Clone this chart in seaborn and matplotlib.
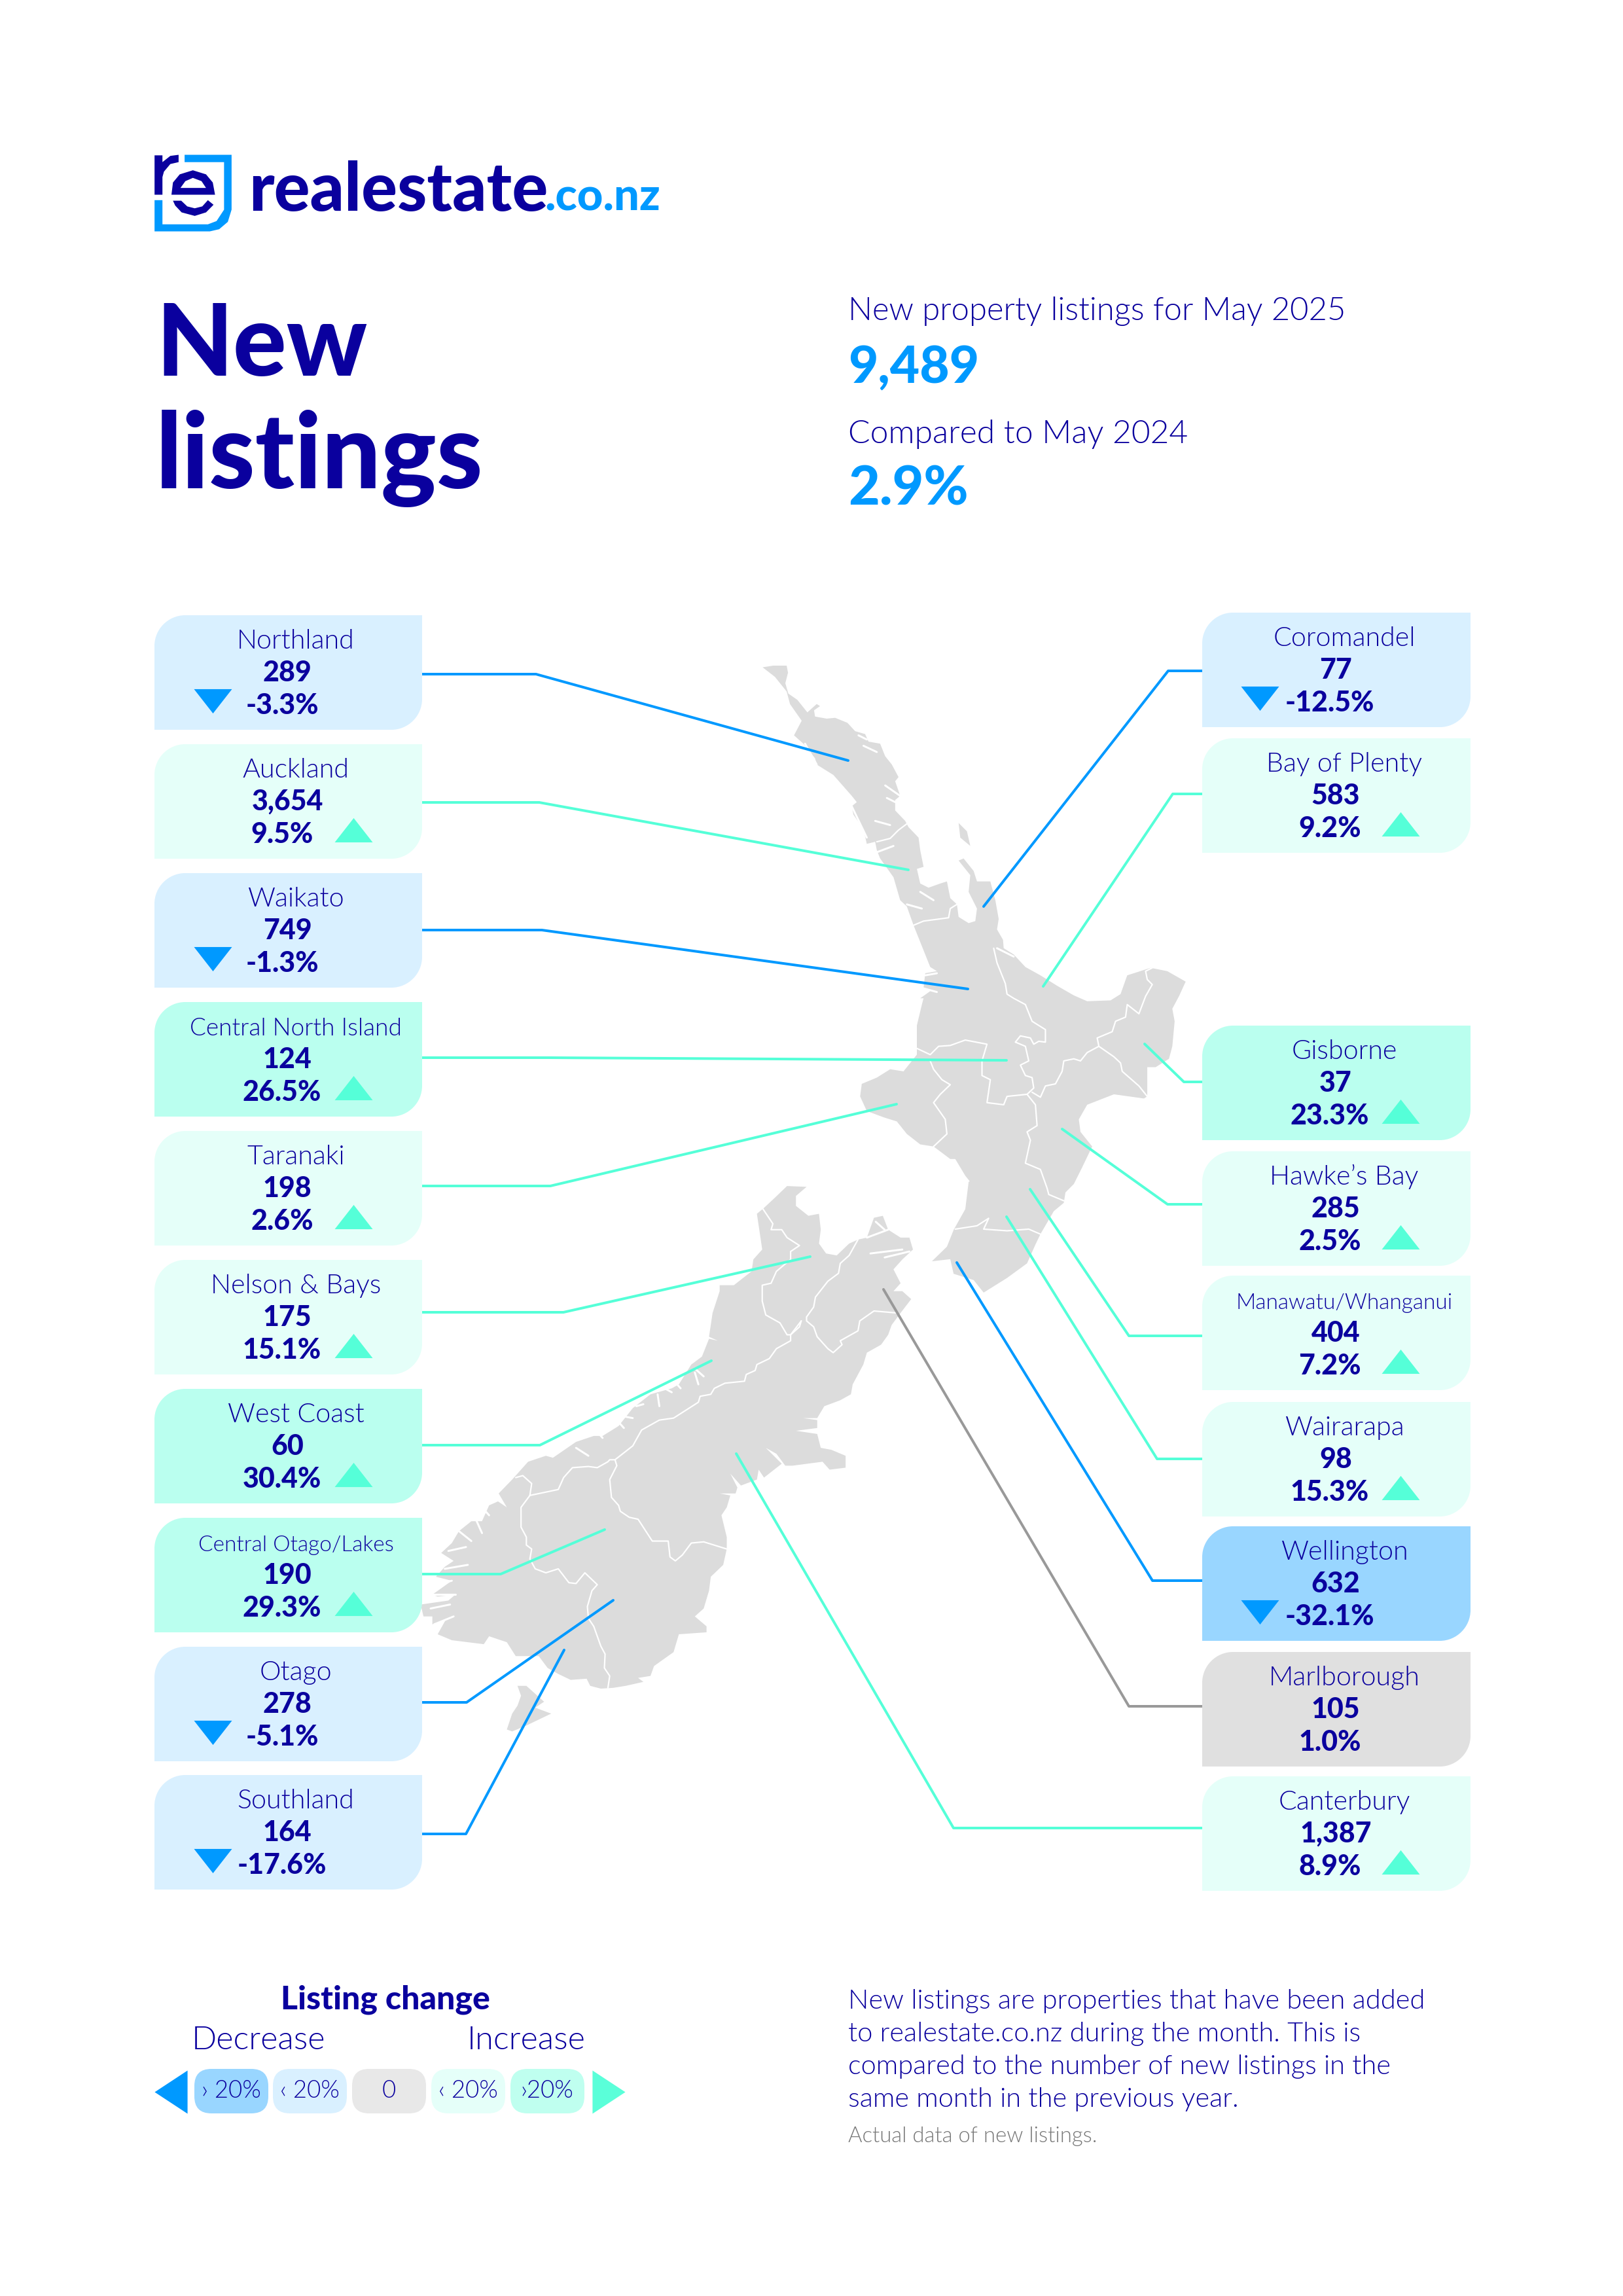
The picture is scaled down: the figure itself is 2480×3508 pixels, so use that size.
"""
New listings poster for realestate.co.nz, May 2025.
"""

import matplotlib
matplotlib.use("Agg")
import matplotlib.pyplot as plt
from matplotlib.patches import FancyBboxPatch, PathPatch, Polygon
from matplotlib.path import Path
import seaborn as sns

# regions, values
LEFT_NAMES = ["Northland", "Auckland", "Waikato", "Central North Island", "Taranaki",
              "Nelson & Bays", "West Coast", "Central Otago/Lakes", "Otago", "Southland"]
LEFT_LISTINGS = ["289", "3,654", "749", "124", "198", "175", "60", "190", "278", "164"]
LEFT_CHANGE = [-3.3, 9.5, -1.3, 26.5, 2.6, 15.1, 30.4, 29.3, -5.1, -17.6]

RIGHT_NAMES = ["Coromandel", "Bay of Plenty", "Gisborne", "Hawke’s Bay", "Manawatu/Whanganui",
               "Wairarapa", "Wellington", "Marlborough", "Canterbury"]
RIGHT_LISTINGS = ["77", "583", "37", "285", "404", "98", "632", "105", "1,387"]
RIGHT_CHANGE = [-12.5, 9.2, 23.3, 2.5, 7.2, 15.3, -32.1, 1.0, 8.9]

# long names are set smaller in their boxes
NAME_SIZES = {"Central North Island": 8.9, "Central Otago/Lakes": 8.0, "Manawatu/Whanganui": 8.0}

# layout of the boxes and leader lines (page pixels)
LEFT_TOPS = [940, 1137, 1334, 1531, 1728, 1925, 2122, 2319, 2516, 2712]
RIGHT_TOPS = [936, 1128, 1567, 1759, 1949, 2142, 2332, 2524, 2714]
LEFT_KNEE_X = [819, 824, 828, 839, 841, 861, 825, 765, 713, 712]
LEFT_KNEE_Y = [1030, 1226, 1421, 1616, 1812, 2005, 2208, 2405, 2601, 2802]
LEFT_END_X = [1296, 1388, 1479, 1538, 1370, 1238, 1087, 924, 937, 862]
LEFT_END_Y = [1162, 1329, 1511, 1620, 1687, 1920, 2079, 2337, 2445, 2521]
RIGHT_KNEE_X = [1785, 1792, 1809, 1784, 1725, 1768, 1761, 1725, 1457]
RIGHT_KNEE_Y = [1025, 1213, 1653, 1840, 2041, 2229, 2415, 2607, 2793]
RIGHT_END_X = [1503, 1594, 1749, 1623, 1574, 1538, 1462, 1350, 1125]
RIGHT_END_Y = [1385, 1507, 1595, 1725, 1817, 1859, 1929, 1970, 2221]

# map outlines, traced in crop pixels, converted by north()/south() below
NORTH_X = [128, 160, 200, 204, 196, 205, 232, 262, 290, 300, 282, 285, 320, 345, 382, 405, 435, 445, 480, 495,
           515, 535, 525, 540, 525, 525, 555, 565, 595, 600, 610, 590, 600, 625, 660, 680, 690, 710, 715, 745,
           765, 770, 745, 750, 715, 730, 760, 770, 810, 825, 835, 830, 848, 850, 880, 915, 960, 1010, 1060, 1100,
           1170, 1200, 1220, 1290, 1340, 1395, 1375, 1355, 1362, 1355, 1345, 1305, 1280, 1280, 1270, 1180, 1100, 1075, 1080, 1115,
           1085, 1060, 1035, 1030, 1000, 960, 945, 920, 860, 790, 760, 700, 690, 635, 680, 700, 735, 745, 765, 750,
           735, 705, 690, 640, 600, 560, 530, 490, 440, 420, 425, 470, 510, 550, 590, 590, 605, 610, 600, 635,
           610, 615, 650, 630, 590, 580, 560, 540, 520, 480, 470, 465, 440, 430, 400, 395, 410, 395, 340, 290,
           285, 250, 222, 245, 210, 200, 165]
NORTH_Y = [62, 58, 58, 75, 100, 125, 140, 170, 150, 155, 165, 180, 185, 183, 195, 215, 222, 240, 245, 275,
           295, 325, 335, 370, 380, 405, 430, 445, 470, 500, 540, 545, 580, 590, 580, 575, 615, 630, 660, 675,
           670, 640, 600, 560, 525, 520, 550, 575, 575, 620, 665, 690, 715, 735, 750, 780, 800, 825, 848, 862,
           860, 845, 800, 782, 790, 815, 850, 880, 910, 970, 1000, 1020, 1020, 1090, 1095, 1085, 1110, 1145, 1175, 1210,
           1260, 1300, 1320, 1345, 1365, 1420, 1445, 1490, 1525, 1560, 1530, 1515, 1480, 1485, 1450, 1410, 1360, 1295, 1285, 1295,
           1280, 1240, 1240, 1210, 1205, 1180, 1150, 1140, 1125, 1090, 1060, 1045, 1025, 1030, 990, 920, 870, 855, 855, 835,
           830, 795, 790, 780, 700, 680, 635, 620, 565, 520, 500, 480, 485, 450, 415, 395, 385, 370, 320, 295,
           280, 245, 225, 190, 150, 120, 85]
BARRIER_X = [715, 740, 750, 720]
BARRIER_Y = [435, 455, 490, 470]

NORTH_BORDERS = [
    ([560, 535, 510, 470], [437, 452, 472, 480]),
    ([580, 610, 685, 690, 710], [680, 670, 662, 640, 630]),
    ([820, 830, 855, 860, 880, 915, 935, 975, 975, 955, 940, 930, 900, 885, 915, 925, 900, 915, 935, 940, 920, 860, 850, 800, 810, 785, 785, 800, 735, 690, 655, 630, 590],
     [735, 770, 820, 845, 855, 870, 910, 930, 960, 958, 965, 950, 945, 960, 970, 1005, 1015, 1040, 1045, 1070, 1085, 1090, 1110, 1105, 1050, 1040, 1005, 965, 955, 968, 970, 990, 975]),
    ([630, 640, 665, 690, 660, 640, 675, 680, 640], [1005, 1025, 1050, 1062, 1085, 1105, 1145, 1180, 1210]),
    ([920, 945, 950, 920, 930, 915, 960, 980, 985, 1030], [1085, 1110, 1160, 1175, 1195, 1250, 1265, 1310, 1325, 1340]),
    ([935, 960, 975, 1005, 1025, 1030, 1060, 1080, 1100, 1135, 1130, 1175, 1185, 1215, 1220, 1255, 1275, 1295, 1280, 1275, 1295],
     [1080, 1092, 1065, 1060, 1030, 1005, 1000, 1005, 985, 970, 950, 935, 910, 900, 870, 892, 850, 822, 810, 790, 782]),
    ([1135, 1180, 1200, 1205, 1255, 1280], [970, 995, 1010, 1030, 1065, 1090]),
    ([705, 770, 805, 790, 860, 925, 960], [1408, 1400, 1382, 1408, 1412, 1408, 1420]),
]

# harbours and inlets cut into the coast, as white slits
NORTH_INLETS = [
    ([440, 415], [235, 225]), ([470, 430], [265, 250]), ([540, 495], [370, 345]), ([525, 500], [385, 375]),
    ([395, 440], [395, 470]), ([510, 465], [440, 430]), ([520, 470], [490, 505]), ([605, 560], [640, 630]),
    ([640, 600], [620, 600]), ([650, 605], [840, 830]), ([650, 615], [795, 800]), ([880, 830], [755, 735]),
    ([290, 255], [295, 245]),
]

SOUTH_X = [1075, 1130, 1100, 1100, 1135, 1165, 1170, 1165, 1185, 1215, 1250, 1275, 1300, 1320, 1345, 1360, 1395, 1420, 1430, 1400,
           1375, 1395, 1375, 1400, 1425, 1395, 1370, 1360, 1340, 1300, 1290, 1260, 1255, 1225, 1180, 1160, 1120, 1160, 1160, 1100,
           1160, 1170, 1200, 1240, 1240, 1195, 1175, 1090, 1070, 1045, 1015, 1060, 1010, 995, 990, 945, 915, 935, 930, 885,
           915, 905, 890, 905, 905, 895, 860, 855, 840, 815, 848, 848, 770, 755, 700, 690, 655, 670, 620, 585,
           550, 520, 510, 465, 430, 400, 375, 310, 285, 235, 220, 130, 90, 115, 135, 75, 75, 50, 42, 120,
           140, 90, 75, 130, 85, 110, 135, 100, 130, 150, 185, 215, 235, 260, 285, 262, 300, 345, 395, 415,
           480, 530, 555, 600, 640, 690, 750, 770, 805, 835, 855, 880, 855, 865, 885, 885, 925, 975, 980, 1005,
           990, 1010, 1040]
SOUTH_Y = [20, 22, 45, 70, 95, 90, 130, 165, 190, 195, 165, 155, 150, 100, 95, 130, 150, 150, 180, 205,
           230, 265, 285, 285, 305, 340, 370, 395, 420, 440, 470, 520, 545, 560, 575, 605, 605, 610, 630, 637,
           645, 680, 685, 700, 730, 735, 715, 725, 725, 695, 680, 720, 755, 735, 760, 775, 745, 780, 795, 795,
           800, 830, 850, 905, 935, 975, 1005, 1040, 1085, 1105, 1130, 1145, 1150, 1195, 1230, 1255, 1260, 1270, 1280, 1285,
           1287, 1280, 1262, 1265, 1250, 1235, 1205, 1205, 1170, 1155, 1175, 1165, 1150, 1110, 1105, 1125, 1105, 1105, 1075, 1065,
           1050, 1055, 1050, 1015, 1005, 980, 965, 945, 920, 890, 865, 865, 825, 815, 830, 795, 760, 715, 700, 705,
           665, 650, 650, 625, 580, 545, 530, 520, 470, 450, 405, 410, 400, 340, 285, 270, 270, 235, 205, 180,
           90, 75, 50]
STEWART_X = [315, 340, 390, 365, 410, 340, 300, 285, 300, 315, 325]
STEWART_Y = [1280, 1280, 1320, 1335, 1350, 1380, 1395, 1390, 1350, 1330, 1305]

SOUTH_BORDERS = [
    ([1005, 1035, 1030, 1060, 1075, 1110, 1085, 1085, 1045, 1030, 1005, 1005, 1015, 1055, 1075, 1085, 1110, 1115],
     [75, 115, 130, 130, 150, 170, 185, 205, 235, 265, 270, 310, 345, 365, 395, 395, 375, 360]),
    ([1275, 1250, 1225, 1220, 1190, 1155, 1150, 1130, 1130, 1150, 1160, 1190, 1205, 1230, 1225, 1275, 1280, 1320, 1385],
     [155, 195, 215, 240, 260, 300, 325, 350, 360, 375, 400, 430, 440, 420, 410, 385, 360, 335, 340]),
    ([1115, 1085, 1085, 1045, 1025, 990, 985, 960, 955, 900, 870, 860, 830, 825, 755, 715, 665, 640, 590, 575, 570, 540, 515, 470, 445, 430, 350, 355, 330, 310],
     [360, 395, 410, 430, 455, 470, 485, 495, 512, 517, 530, 545, 550, 565, 605, 610, 635, 675, 710, 710, 715, 730, 727, 730, 755, 785, 800, 770, 750, 755]),
    ([590, 595, 575, 580, 600, 605, 630, 655, 695, 740, 745, 760, 780, 805, 840, 905],
     [710, 725, 760, 805, 825, 840, 855, 860, 915, 915, 955, 965, 950, 920, 917, 935]),
    ([350, 325, 325, 340, 340, 355, 350, 365, 395, 430, 460, 480, 505, 540, 525, 512, 515, 530, 550, 562, 560, 575, 570],
     [800, 830, 880, 905, 925, 935, 960, 985, 995, 985, 1020, 1022, 995, 1025, 1040, 1080, 1110, 1130, 1180, 1200, 1235, 1255, 1285]),
]

SOUTH_INLETS = [
    ([135, 80], [1105, 1125]), ([140, 75], [1050, 1050]), ([130, 85], [1015, 1025]), ([175, 110], [975, 985]),
    ([170, 120], [930, 940]), ([185, 150], [915, 890]), ([215, 195], [895, 855]), ([235, 215], [850, 830]),
    ([515, 480], [700, 680]), ([555, 540], [655, 640]), ([615, 600], [630, 615]), ([640, 610], [605, 600]),
    ([670, 650], [570, 575]), ([715, 710], [575, 545]), ([750, 720], [540, 525]), ([775, 755], [530, 510]),
    ([825, 815], [520, 490]), ([840, 815], [500, 480]), ([1300, 1360], [150, 130]), ([1310, 1400], [190, 180]),
    ([1350, 1420], [200, 185]), ([1325, 1350], [110, 130]), ([70, 125], [1085, 1075]),
]

LEGEND_LABELS = ["› 20%", "‹ 20%", "0", "‹ 20%", "›20%"]
LEGEND_COLORS = ["#99D6FF", "#D9F0FF", "#E8E8E8", "#E5FFF9", "#BFFFEF"]
LEGEND_X0 = [297, 417, 538, 659, 780]

NOTE_LINES = ["New listings are properties that have been added",
              "to realestate.co.nz during the month. This is",
              "compared to the number of new listings in the",
              "same month in the previous year."]

NAVY = "#0A009E"
BLUE = "#0099FF"
MINT = "#55FFD8"
GREY_LINE = "#999999"
LAND = "#DCDCDC"
THIN = 300

UP_MARK = [(-1, -0.64), (1, -0.64), (0, 0.64)]
DOWN_MARK = [(-1, 0.64), (1, 0.64), (0, -0.64)]
LEFT_MARK = [(0.76, -1), (0.76, 1), (-0.76, 0)]
RIGHT_MARK = [(-0.76, -1), (-0.76, 1), (0.76, 0)]
DPI = 300


def north(xs, ys):
    return [1100 + x / 1.96 for x in xs], [980 + y / 1.568 for y in ys]


def south(xs, ys):
    return [620 + x / 1.845 for x in xs], [1800 + y / 1.65 for y in ys]


def pt(px):
    return px * 72 / DPI


def box_colors(change):
    if abs(change) <= 1.0:
        return "#E0E0E0", GREY_LINE
    if change < 0:
        return ("#99D6FF" if change <= -20 else "#D9F0FF"), BLUE
    return ("#BAFFEF" if change >= 20 else "#E5FFF9"), MINT


def tag_path(x0, y0, x1, y1, r=47):
    # top left and bottom right corners rounded, y grows downward
    k = r * 0.45
    verts = [(x0, y1), (x0, y0 + r), (x0, y0 + k), (x0 + k, y0), (x0 + r, y0), (x1, y0),
             (x1, y1 - r), (x1, y1 - k), (x1 - k, y1), (x1 - r, y1), (x0, y1), (x0, y1)]
    codes = [Path.MOVETO, Path.LINETO, Path.CURVE4, Path.CURVE4, Path.CURVE4, Path.LINETO,
             Path.LINETO, Path.CURVE4, Path.CURVE4, Path.CURVE4, Path.LINETO, Path.CLOSEPOLY]
    return Path(verts, codes)


def mark(ax, x, y, shape, color, width):
    sns.scatterplot(x=[x], y=[y], marker=shape, s=(width * 72 / DPI) ** 2, color=color,
                    linewidth=0, zorder=5, ax=ax, legend=False)


def line(ax, xs, ys, color, px, zorder=2):
    sns.lineplot(x=xs, y=ys, sort=False, estimator=None, color=color, linewidth=pt(px),
                 zorder=zorder, ax=ax, legend=False)


def draw_region(ax, name, listings, change, top, height, x0, x1, knee_x, knee_y, end_x, end_y, side):
    fill, stroke = box_colors(change)
    ax.add_patch(PathPatch(tag_path(x0, top, x1, top + height), facecolor=fill, edgecolor="none", zorder=3))
    edge = x1 if side == "left" else x0
    line(ax, [edge, knee_x, end_x], [knee_y, knee_y, end_y], stroke, 4)

    if side == "left":
        name_x, num_x, pct_x, up_x, down_x = 452, 439, 431, 540, 325
    else:
        name_x, num_x, pct_x, up_x, down_x = 2054, 2041, 2032, 2140, 1925
    ax.text(name_x, top + 51, name, ha="center", va="baseline", color=NAVY,
            fontsize=NAME_SIZES.get(name, 9.9), fontweight=THIN, zorder=6)
    ax.text(num_x, top + 101, listings, ha="center", va="baseline", color=NAVY,
            fontsize=10.3, fontweight="black", zorder=6)
    ax.text(pct_x, top + 151, f"{change:.1f}%", ha="center", va="baseline", color=NAVY,
            fontsize=10.3, fontweight="black", zorder=6)
    if abs(change) > 1.0:
        if change > 0:
            mark(ax, up_x, top + 131, UP_MARK, MINT, 58)
        else:
            mark(ax, down_x, top + 131, DOWN_MARK, BLUE, 58)


def draw_map(ax):
    for xs, ys in [north(NORTH_X, NORTH_Y), north(BARRIER_X, BARRIER_Y),
                   south(SOUTH_X, SOUTH_Y), south(STEWART_X, STEWART_Y)]:
        ax.fill(xs, ys, color=LAND, linewidth=0, zorder=1)
    for bx, by in NORTH_BORDERS:
        xs, ys = north(bx, by)
        line(ax, xs, ys, "white", 2.2, zorder=1.5)
    for bx, by in SOUTH_BORDERS:
        xs, ys = south(bx, by)
        line(ax, xs, ys, "white", 2.2, zorder=1.5)
    for bx, by in NORTH_INLETS:
        xs, ys = north(bx, by)
        line(ax, xs, ys, "white", 3, zorder=1.5)
    for bx, by in SOUTH_INLETS:
        xs, ys = south(bx, by)
        line(ax, xs, ys, "white", 3, zorder=1.5)


def logo_xy(pts):
    return [(200 + x / 1.742, 200 + y / 2.41) for x, y in pts]


def draw_logo(ax):
    frame = [(143, 88), (268, 88), (268, 290), (258, 335), (235, 362), (210, 370), (63, 370), (63, 255),
             (84, 255), (84, 344), (205, 344), (228, 332), (248, 290), (248, 115), (143, 115)]
    stem = [(63, 90), (84, 90), (84, 115), (105, 92), (127, 88), (127, 115), (105, 122), (88, 150),
            (84, 170), (84, 235), (63, 235)]
    e_top = [(108, 235), (112, 190), (130, 160), (165, 145), (200, 160), (218, 190), (224, 235)]
    e_hole = [(132, 210), (145, 185), (165, 173), (188, 185), (200, 210)]
    e_low = [(112, 257), (134, 257), (150, 278), (170, 285), (190, 278), (205, 255), (220, 272),
             (200, 300), (170, 313), (135, 300), (118, 275)]
    ax.add_patch(Polygon(logo_xy(frame), facecolor=BLUE, edgecolor="none", zorder=3))
    for shape, color in [(stem, NAVY), (e_top, NAVY), (e_hole, "white"), (e_low, NAVY)]:
        ax.add_patch(Polygon(logo_xy(shape), facecolor=color, edgecolor="none", zorder=4))
    ax.text(380, 322, "realestate", color=NAVY, fontsize=24.6, fontweight="black", va="baseline")
    ax.text(832, 322, ".co.nz", color=BLUE, fontsize=16.5, fontweight="black", va="baseline")


def draw_legend(ax):
    ax.text(589, 3070, "Listing change", ha="center", va="baseline", color=NAVY, fontsize=12, fontweight="black")
    ax.text(293, 3131, "Decrease", color=NAVY, fontsize=12.1, fontweight=THIN, va="baseline")
    ax.text(714, 3131, "Increase", color=NAVY, fontsize=12.1, fontweight=THIN, va="baseline")
    for x0, label, color in zip(LEGEND_X0, LEGEND_LABELS, LEGEND_COLORS):
        ax.add_patch(FancyBboxPatch((x0, 3161), 113, 68, boxstyle="round,pad=0,rounding_size=26",
                                    facecolor=color, edgecolor="none", zorder=3))
        ax.text(x0 + 56, 3195, label, ha="center", va="center", color=NAVY, fontsize=8.8,
                fontweight=THIN, zorder=4)
    mark(ax, 261, 3196, LEFT_MARK, BLUE, 66)
    mark(ax, 930, 3196, RIGHT_MARK, "#5AFFD9", 66)


def main():
    sns.set_theme(style="white")
    plt.rcParams["font.family"] = ["Lato", "DejaVu Sans"]

    fig = plt.figure(figsize=(2480 / DPI, 3508 / DPI), dpi=DPI)
    ax = fig.add_axes([0, 0, 1, 1])

    draw_map(ax)
    draw_logo(ax)

    ax.text(238, 574, "New", color=NAVY, fontsize=36.6, fontweight="black", va="baseline")
    ax.text(238, 746, "listings", color=NAVY, fontsize=38.3, fontweight="black", va="baseline")

    ax.text(1296, 489, "New property listings for May 2025", color=NAVY, fontsize=11.75, fontweight=THIN, va="baseline")
    ax.text(1296, 585, "9,489", color=BLUE, fontsize=18.8, fontweight="black", va="baseline")
    ax.text(1296, 677, "Compared to May 2024", color=NAVY, fontsize=11.95, fontweight=THIN, va="baseline")
    ax.text(1296, 772, "2.9%", color=BLUE, fontsize=19.8, fontweight="black", va="baseline")

    for i, name in enumerate(LEFT_NAMES):
        draw_region(ax, name, LEFT_LISTINGS[i], LEFT_CHANGE[i], LEFT_TOPS[i], 175, 236, 645,
                    LEFT_KNEE_X[i], LEFT_KNEE_Y[i], LEFT_END_X[i], LEFT_END_Y[i], "left")
    for i, name in enumerate(RIGHT_NAMES):
        draw_region(ax, name, RIGHT_LISTINGS[i], RIGHT_CHANGE[i], RIGHT_TOPS[i], 175, 1837, 2247,
                    RIGHT_KNEE_X[i], RIGHT_KNEE_Y[i], RIGHT_END_X[i], RIGHT_END_Y[i], "right")

    draw_legend(ax)

    for i, note in enumerate(NOTE_LINES):
        ax.text(1296, 3069 + i * 50, note, color=NAVY, fontsize=10.0, fontweight=THIN, va="baseline")
    ax.text(1296, 3273, "Actual data of new listings.", color="#777777", fontsize=7.9, fontweight=THIN, va="baseline")

    ax.set_xlim(0, 2480)
    ax.set_ylim(3508, 0)
    ax.axis("off")
    fig.savefig("out.png", dpi=DPI, facecolor="white")


if __name__ == "__main__":
    main()
